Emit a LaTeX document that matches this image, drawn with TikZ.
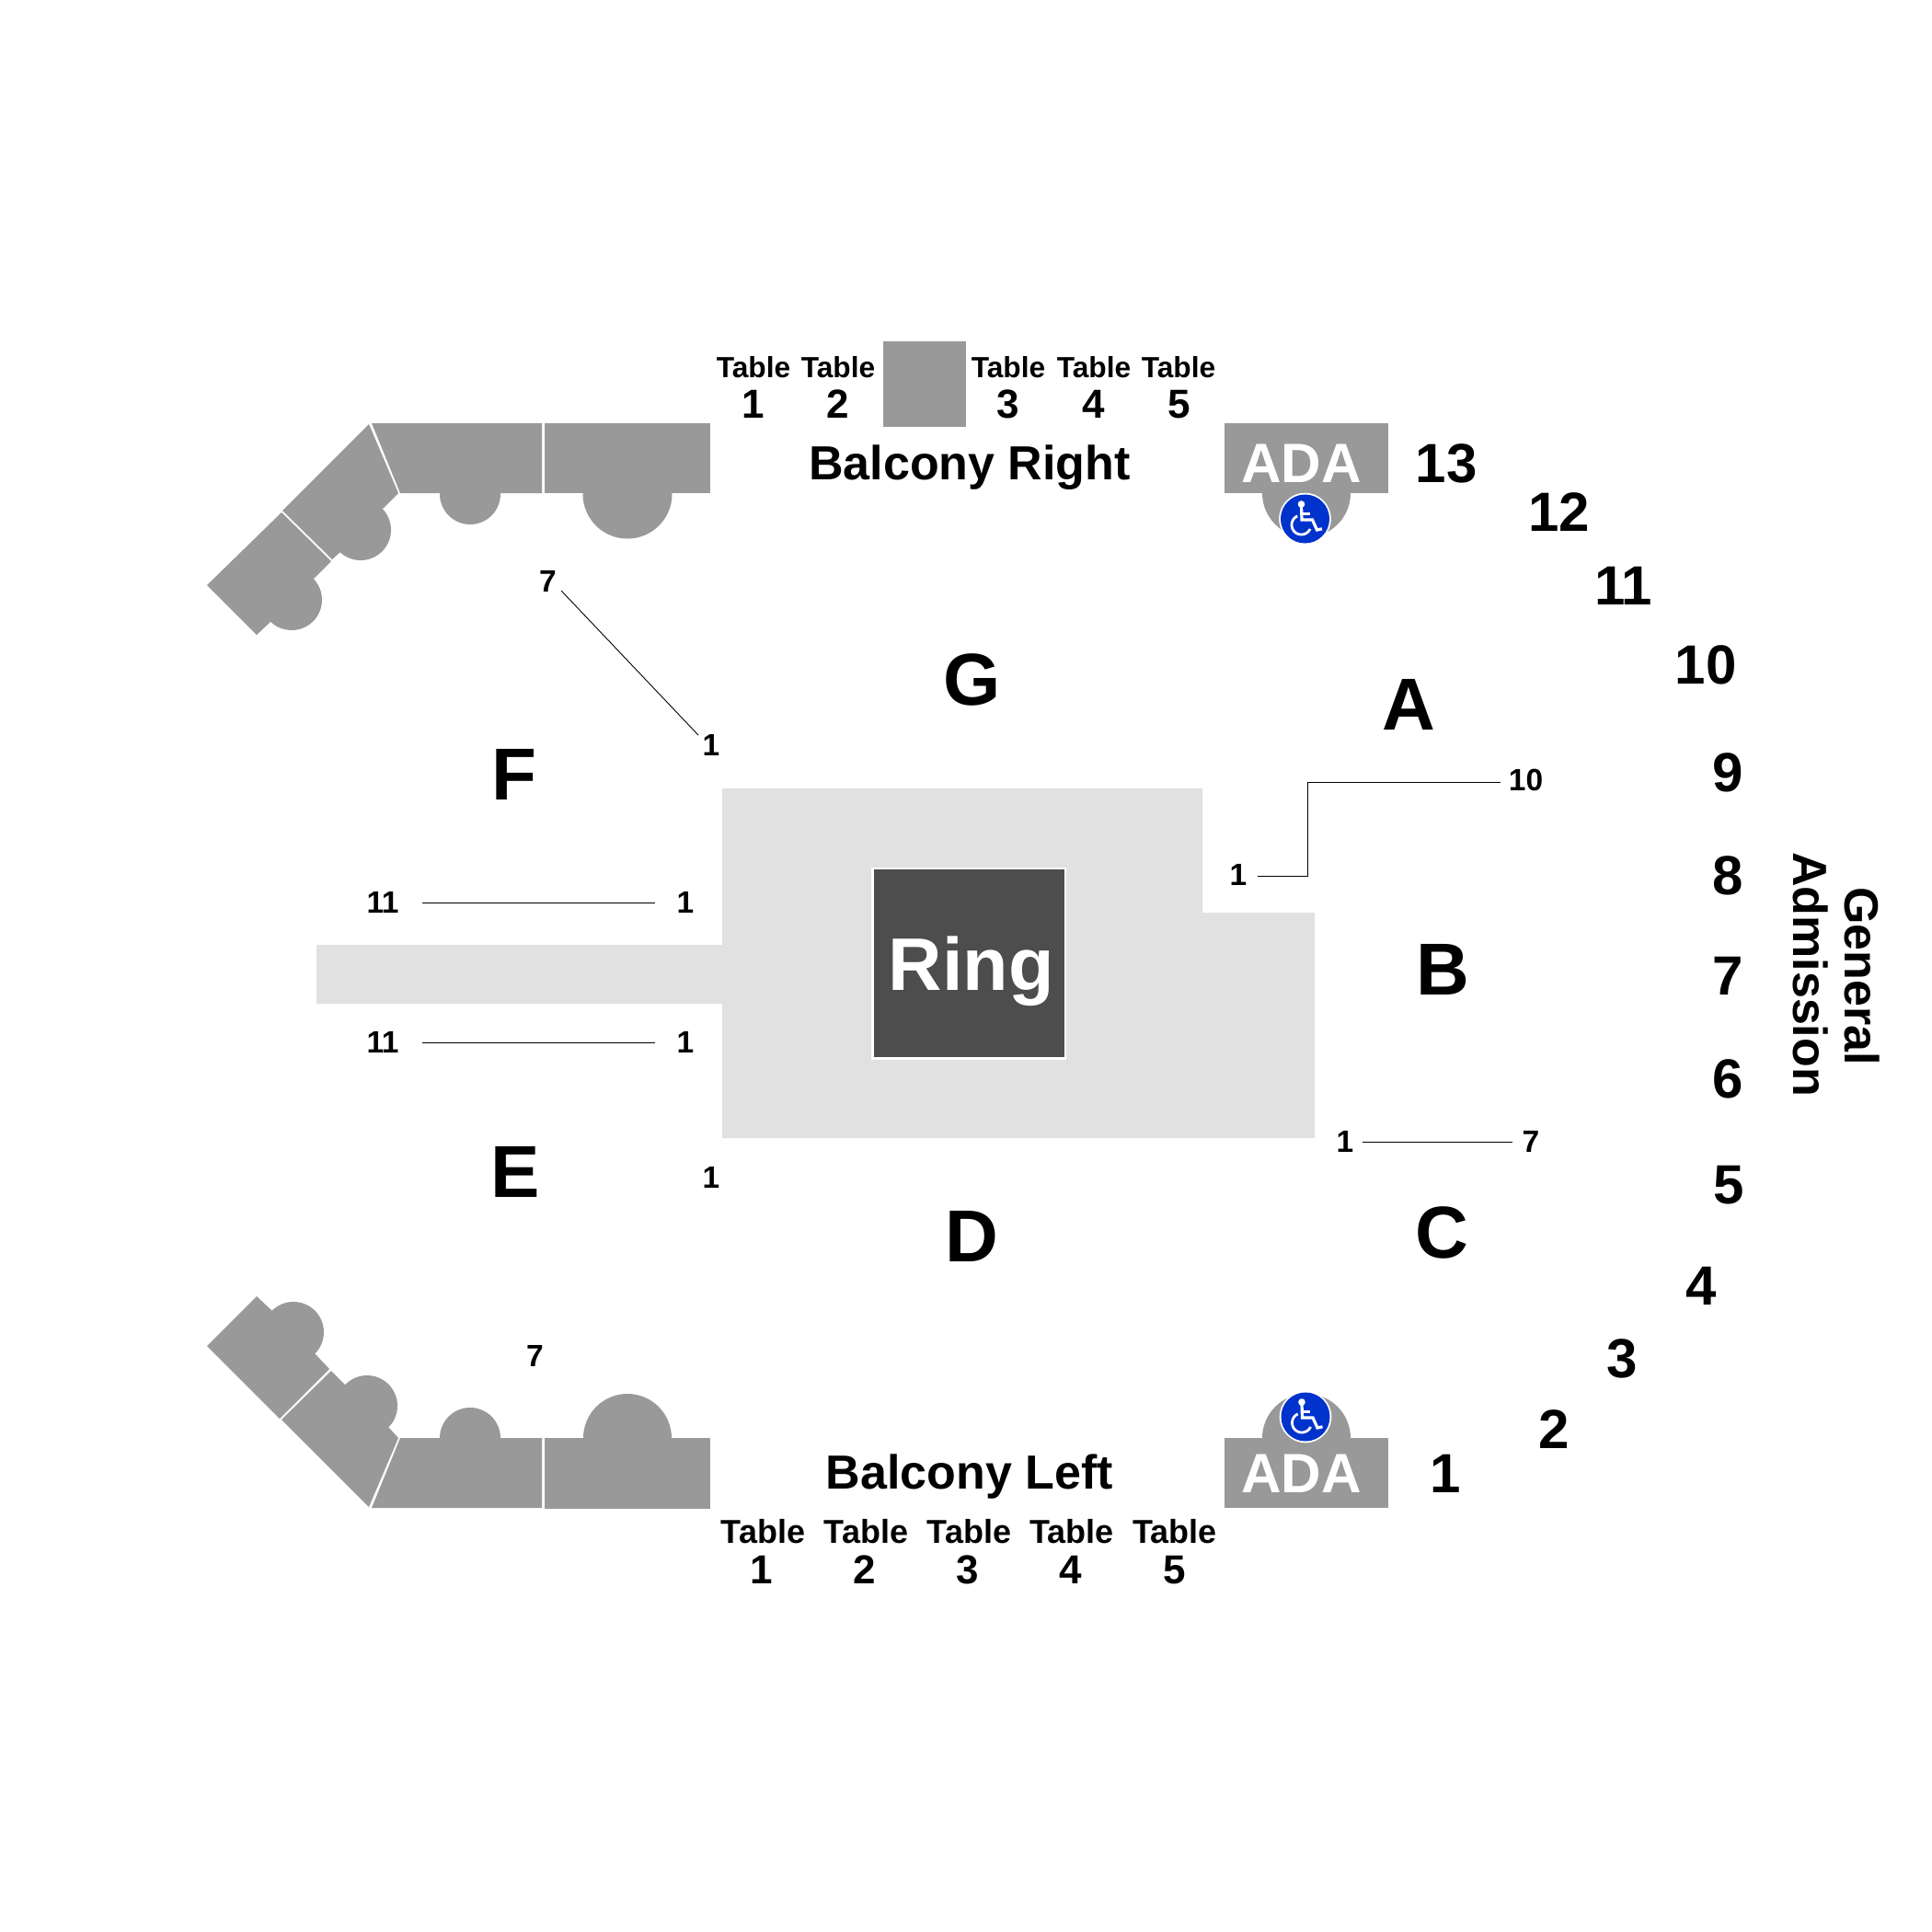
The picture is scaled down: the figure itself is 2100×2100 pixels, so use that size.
\documentclass[tikz,border=0pt]{standalone}
\usepackage{fontspec}
\setmainfont{Liberation Sans}
\definecolor{gry}{HTML}{999999}
\definecolor{lgt}{HTML}{E1E1E1}
\definecolor{drk}{HTML}{4D4D4D}
\definecolor{blu}{HTML}{0033CC}
\newcommand{\elvn}{1\kern-.074em 1}
\tikzset{
  x=.36pt,y=-.36pt,
  tx/.style={anchor=base,inner sep=0pt,text=black},
  big/.style={tx,font=\fontsize{28.8}{30}\selectfont\bfseries},
  num/.style={tx,font=\fontsize{21.6}{24}\selectfont\bfseries},
  sml/.style={tx,font=\fontsize{12.06}{14}\selectfont\bfseries},
  tdg/.style={tx,font=\fontsize{15.84}{18}\selectfont\bfseries},
  tbr/.style={tx,font=\fontsize{11.41}{13}\selectfont\bfseries},
  tbl/.style={tx,font=\fontsize{12.95}{14}\selectfont\bfseries},
  bal/.style={tx,font=\fontsize{18.72}{20}\selectfont\bfseries},
  gax/.style={tx,rotate=-90,font=\fontsize{18.72}{20}\selectfont\bfseries},
  ada/.style={anchor=base,inner sep=0pt,text=white,font=\fontsize{21.7}{24}\selectfont\bfseries},
  leader/.style={draw=black,line width=.32pt},
  seat/.style={fill=gry,draw=none}
}
\newcommand{\wchair}[2]{%
  \begin{scope}[shift={(#1,#2)}]
    \fill[white] (0,0) circle[radius=28.3];
    \fill[blu] (0,0) circle[radius=26.5];
    \fill[white] (-4,-16) circle[radius=3.8];
    \draw[white,line width=1.15pt,line cap=butt,line join=miter]
      (-4,-14) -- (-3.5,1) -- (8,1) -- (13,12) -- (18.5,10.8);
    \draw[white,line width=1.1pt] (-3.8,-5.5) -- (5,-5.5);
    \draw[white,line width=1pt] plot[domain=25:246,samples=36,smooth] ({-4+10.5*cos(\x)},{6.5+10.5*sin(\x)});
  \end{scope}}
\begin{document}
\begin{tikzpicture}
\useasboundingbox (0,0) rectangle (2100,2100);
\fill[white] (0,0) rectangle (2100,2100);
% floor
\fill[lgt] (785,857) -- (1307,857) -- (1307,992) -- (1429,992) -- (1429,1237) -- (785,1237) -- (785,1091) -- (344,1091) -- (344,1027) -- (785,1027) -- cycle;
\fill[white] (947,943) rectangle (1159,1152);
\fill[drk] (950,945) rectangle (1157,1149);
\node[tx,text=white,font=\fontsize{29.16}{32}\selectfont\bfseries] (ring) at (1055.5,1076) {Ring};
% top balcony
\fill[seat] (404,460) -- (589,460) -- (589,536) -- (435,536) -- cycle;
\fill[seat] (511,537) circle[radius=33];
\fill[seat] (592,460) rectangle (772,536);
\fill[seat] (682,537) circle[radius=48.5];
\fill[seat] (401,461) -- (433,536) -- (417,552) -- (392,576) -- (370,600) -- (361,608) -- (307,555) -- cycle;
\fill[seat] (392,576) circle[radius=33];
\fill[seat] (306,557) -- (360,610) -- (342,628) -- (317,652) -- (294,676) -- (279,690) -- (225,636) -- cycle;
\fill[seat] (317,652) circle[radius=33];
% bottom balcony
\fill[seat] (435,1563) -- (589,1563) -- (589,1639) -- (404,1639) -- cycle;
\fill[seat] (511,1563) circle[radius=33];
\fill[seat] (592,1563) rectangle (772,1640);
\fill[seat] (682,1563) circle[radius=48];
\fill[seat] (401,1638) -- (306,1543) -- (360,1490) -- (375,1505) -- (399,1528) -- (423,1552) -- (433,1563) -- cycle;
\fill[seat] (399,1528) circle[radius=33];
\fill[seat] (304,1542) -- (225,1463) -- (279,1409) -- (296,1425) -- (319,1448) -- (343,1472) -- (358,1488) -- cycle;
\fill[seat] (319,1448) circle[radius=33];
% table block
\fill[seat] (960,371) rectangle (1050,464);
% ADA
\fill[seat] (1331,460) rectangle (1509,536);
\fill[seat] (1420,536) circle[radius=48];
\wchair{1418.5}{564}
\node[ada] (adatop) at (1414.5,524) {ADA};
\fill[seat] (1331,1563) rectangle (1509,1639);
\fill[seat] (1420,1563) circle[radius=48];
\wchair{1419}{1540}
\node[ada] (adabot) at (1414.5,1622) {ADA};
% section letters
\node[big] (secA) at (1531,793) {A};
\node[big] (secB) at (1568,1081) {B};
\node[big] (secC) at (1567.5,1367) {C};
\node[big] (secD) at (1056,1371) {D};
\node[big] (secE) at (560,1301) {E};
\node[big] (secF) at (559,869) {F};
\node[big] (secG) at (1057,766) {G};
% GA rows
\node[num] (r13) at (1572,524) {13};
\node[num] (r12) at (1694.5,577) {12};
\node[num] (r11) at (1765,657.5) {\elvn};
\node[num] (r10) at (1854,743) {10};
\node[num] (r9) at (1878,860.5) {9};
\node[num] (r8) at (1878,972) {8};
\node[num] (r7) at (1878,1081.5) {7};
\node[num] (r6) at (1878,1193) {6};
\node[num] (r5) at (1879,1308.5) {5};
\node[num] (r4) at (1849,1418) {4};
\node[num] (r3) at (1763,1497) {3};
\node[num] (r2) at (1689,1574) {2};
\node[num] (r1) at (1571,1622.5) {1};
\node[gax] (ga1) at (2005,1061) {General};
\node[gax] (ga2) at (1949,1059) {Admission};
% balcony labels
\node[bal] (balR) at (1054,521) {Balcony Right};
\node[bal] (balL) at (1054,1618) {Balcony Left};
\node[tbr] (trt1) at (819,410) {Table};
\node[tbr] (trt2) at (911,410) {Table};
\node[tbr] (trt3) at (1096,410) {Table};
\node[tbr] (trt4) at (1189,410) {Table};
\node[tbr] (trt5) at (1281,410) {Table};
\node[tdg] (trd1) at (819,454) {1};
\node[tdg] (trd2) at (911,454) {2};
\node[tdg] (trd3) at (1096,454) {3};
\node[tdg] (trd4) at (1189,454) {4};
\node[tdg] (trd5) at (1282,454) {5};
\node[tbl] (tlt1) at (829.5,1677) {Table};
\node[tbl] (tlt2) at (941.5,1677) {Table};
\node[tbl] (tlt3) at (1053.5,1677) {Table};
\node[tbl] (tlt4) at (1165,1677) {Table};
\node[tbl] (tlt5) at (1277,1677) {Table};
\node[tdg] (tld1) at (828,1721) {1};
\node[tdg] (tld2) at (939.5,1721) {2};
\node[tdg] (tld3) at (1052,1721) {3};
\node[tdg] (tld4) at (1164,1721) {4};
\node[tdg] (tld5) at (1277,1721) {5};
% row range labels
\node[sml] (g7) at (595.5,643) {7};
\node[sml] (g1) at (773,821) {1};
\node[sml] (f11) at (416,992) {\elvn};
\node[sml] (f1) at (745,992) {1};
\node[sml] (e11) at (416,1144) {\elvn};
\node[sml] (e1) at (745,1144) {1};
\node[sml] (d1) at (773,1291) {1};
\node[sml] (d7) at (581.5,1485) {7};
\node[sml] (a1) at (1346,962) {1};
\node[sml] (a10) at (1658.5,859.5) {10};
\node[sml] (b1) at (1462,1252) {1};
\node[sml] (b7) at (1664,1252) {7};
% leaders
\coordinate (lg7) at (610,642);
\coordinate (lg1) at (759,799);
\coordinate (lf11) at (459,981);
\coordinate (lf1) at (712,981);
\coordinate (le11) at (459,1133);
\coordinate (le1) at (712,1133);
\coordinate (la1) at (1367,952);
\coordinate (lam1) at (1421.5,952);
\coordinate (lam2) at (1421.5,850);
\coordinate (la10) at (1631,850);
\coordinate (lb1) at (1481,1241);
\coordinate (lb7) at (1644,1241);
\draw[leader] (lg7) -- (lg1);
\draw[leader] (lf11) -- (lf1);
\draw[leader] (le11) -- (le1);
\draw[leader] (la1) -- (lam1) -- (lam2) -- (la10);
\draw[leader] (lb1) -- (lb7);
\end{tikzpicture}
\end{document}
